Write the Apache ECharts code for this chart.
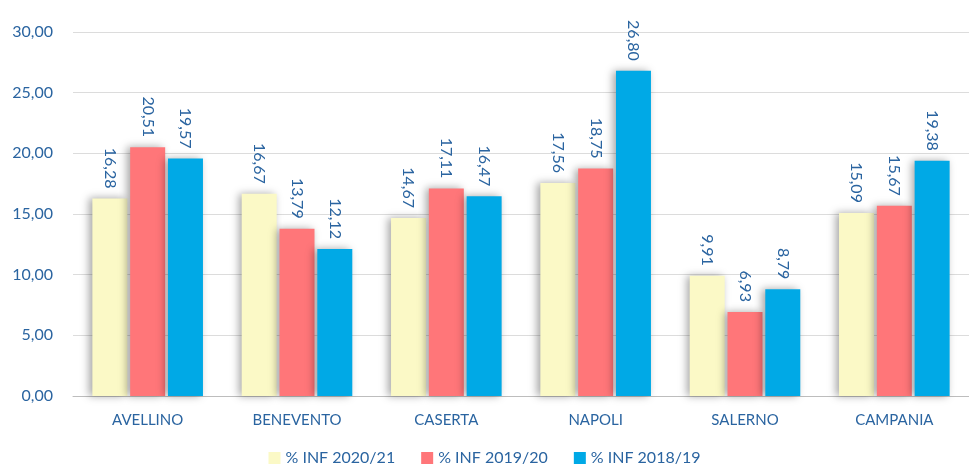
<!DOCTYPE html>
<html>
<head>
<meta charset="utf-8">
<script src="https://cdn.jsdelivr.net/npm/echarts@6/dist/echarts.min.js"></script>
<style>
  html, body { margin: 0; padding: 0; background: #fff; }
  #chart { width: 969px; height: 471px; }
</style>
</head>
<body>
<div id="chart"></div>
<script>
const categories = ['AVELLINO', 'BENEVENTO', 'CASERTA', 'NAPOLI', 'SALERNO', 'CAMPANIA'];
const seriesNames = ['% INF 2020/21', '% INF 2019/20', '% INF 2018/19'];
const inf2021 = [16.28, 16.67, 14.67, 17.56, 9.91, 15.09];
const inf1920 = [20.51, 13.79, 17.11, 18.75, 6.93, 15.67];
const inf1819 = [19.57, 12.12, 16.47, 26.80, 8.79, 19.38];
const colors = ['#fbf9c6', '#ff7679', '#00a9e6'];

const fmt = v => v.toFixed(2).replace('.', ',');
const chart = echarts.init(document.getElementById('chart'));

const mkSeries = (name, data, color) => ({
  name: name,
  type: 'bar',
  data: data,
  barWidth: 35,
  barGap: '8%',
  itemStyle: {
    color: color,
    shadowColor: 'rgba(0,0,0,0.35)',
    shadowBlur: 8,
    shadowOffsetX: -3
  },
  label: {
    show: true,
    position: 'top',
    rotate: -90,
    align: 'right',
    verticalAlign: 'middle',
    distance: 10,
    color: '#2a64a0',
    fontSize: 16,
    fontFamily: 'Lato',
    formatter: p => fmt(p.value)
  }
});

chart.setOption({
  animation: false,
  textStyle: { fontFamily: 'Lato' },
  grid: { left: 73, right: -9, top: 32, bottom: 75 },
  legend: {
    bottom: 0,
    left: 'center',
    itemWidth: 12,
    itemHeight: 12,
    itemGap: 26,
    icon: 'rect',
    textStyle: { color: '#2a64a0', fontSize: 16, fontFamily: 'Lato' },
    data: seriesNames
  },
  xAxis: {
    type: 'category',
    data: categories,
    axisTick: { show: false },
    axisLine: { lineStyle: { color: '#bdbdbd' } },
    axisLabel: { color: '#2a64a0', fontSize: 15, margin: 17, fontFamily: 'Lato' }
  },
  yAxis: {
    type: 'value',
    min: 0,
    max: 30,
    interval: 5,
    axisLabel: { color: '#2a64a0', fontSize: 16, margin: 20, formatter: v => fmt(v), fontFamily: 'Lato' },
    splitLine: { lineStyle: { color: '#dcdcdc' } },
    axisLine: { show: false },
    axisTick: { show: false }
  },
  series: [
    mkSeries(seriesNames[0], inf2021, colors[0]),
    mkSeries(seriesNames[1], inf1920, colors[1]),
    mkSeries(seriesNames[2], inf1819, colors[2])
  ]
});
</script>
</body>
</html>
